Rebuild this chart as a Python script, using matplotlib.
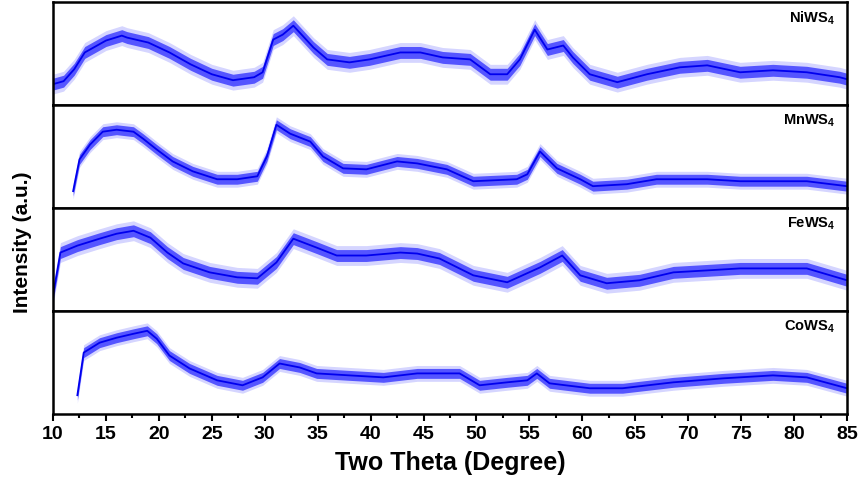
import numpy as np
import matplotlib.pyplot as plt
mpl_config = {
    'font.family': ['Liberation Sans', 'DejaVu Sans'],
    'font.weight': 'bold',
    'mathtext.fontset': 'custom',
    'mathtext.rm': 'Liberation Sans:bold',
    'mathtext.bf': 'Liberation Sans:bold',
}
plt.rcParams.update(mpl_config)
del mpl_config

# sample names, top to bottom
samples = [r'NiWS$_4$', r'MnWS$_4$', r'FeWS$_4$', r'CoWS$_4$']

# trend of each pattern (two theta in degree, intensity in a.u.)
ni_tt = [10, 11, 12, 13, 15, 16.5, 17, 19, 21, 23, 25, 27, 29, 29.8, 30.8, 31.7, 32.7, 34.6, 35.9, 38, 39.9,
         42.8, 44.7, 46.8, 49.4, 51.3, 52.9, 54.1, 55.5, 56.7, 58.2, 59.1, 60.7, 63.3, 66.1, 69.2,
         71.8, 74.9, 78, 81.2, 84.3, 85]
ni_int = [21, 24, 36, 53, 65, 70, 68, 63, 53, 41, 31, 25, 28, 33, 66, 71, 80, 58, 46, 43, 46,
          53, 53, 48, 46, 31, 31, 46, 76, 56, 60, 48, 31, 23, 31, 38,
          40, 33, 35, 33, 28, 26]

mn_tt = [11.9, 12.5, 13.5, 14.7, 16, 17.6, 18.5, 19.8, 21.3, 23.2, 25.5, 27.4, 29.3, 30.2, 31.1,
         32.4, 34.3, 35.5, 37.4, 39.6, 42.5, 44.4, 47.2, 49.7, 53.8, 54.8, 56, 57.6, 59.8, 61,
         64.2, 67, 71.8, 74.9, 78, 81.2, 85]
mn_int = [17, 49, 64, 77, 79, 77, 70, 59, 47, 37, 29, 29, 32, 52, 84,
          75, 67, 52, 40, 39, 47, 45, 39, 27, 29, 34, 57, 40, 29, 22,
          24, 29, 29, 27, 27, 27, 22]

fe_tt = [10, 10.7, 12.3, 14.4, 16, 17.6, 19.2, 20.8, 22.3, 24.8, 27.4, 29.3, 31.1, 32.7, 34.9,
         36.8, 39.6, 42.8, 44.4, 46.5, 49.7, 52.9, 56, 58.1, 59.8, 62.3, 65.4, 68.6, 71.8, 74.9,
         78, 81.2, 85]
fe_int = [16, 59, 66, 73, 78, 81, 74, 59, 48, 39, 34, 33, 49, 73, 64,
          56, 56, 59, 58, 53, 36, 29, 44, 56, 36, 28, 31, 39, 41, 43,
          43, 43, 31]

co_tt = [12.3, 12.9, 14.4, 16, 17.6, 18.9, 19.8, 21, 22.9, 25.5, 27.9, 29.8, 31.4, 33.3, 34.9,
         38, 41.2, 44.4, 46.5, 48.4, 50.3, 52.9, 54.8, 55.7, 56.9, 60.7, 63.8, 68.6, 73.3, 78,
         81.2, 85]
co_int = [19, 62, 72, 77, 81, 84, 76, 59, 46, 34, 29, 37, 51, 47, 41,
          39, 37, 41, 41, 41, 29, 32, 34, 41, 31, 26, 26, 32, 36, 39,
          37, 26]

# half height of the noise band of each pattern (dense core, then the spikes)
noise = [6, 5, 6, 5]
spikes = [10, 8, 10, 8]

two_theta = [ni_tt, mn_tt, fe_tt, co_tt]
intensity = [ni_int, mn_int, fe_int, co_int]
x_ticks = list(range(10, 90, 5))

fig, axes = plt.subplots(4, 1, sharex=True, figsize=(8.62, 4.84), dpi=100)
fig.subplots_adjust(left=0.0615, right=0.9826, top=0.996, bottom=0.1446, hspace=0)

for ax, name, tt, it, w, s in zip(axes, samples, two_theta, intensity, noise, spikes):
    tt = np.array(tt)
    it = np.array(it)
    ax.fill_between(tt, it - s, it + s, color='#4040ff', alpha=0.22, linewidth=0)
    ax.fill_between(tt, it - w, it + w, color='#0000ff', alpha=0.6, linewidth=0)
    ax.plot(tt, it, color='#0000ee', linewidth=1.3)
    ax.set_xlim(10, 85)
    ax.set_ylim(0, 104)
    ax.set_yticks([])
    for sp in ax.spines.values():
        sp.set_linewidth(1.8)
    ax.tick_params(axis='x', which='both', bottom=False, labelbottom=False)
    ax.text(0.985, 0.93, name, transform=ax.transAxes, ha='right', va='top',
            fontsize=10.5, fontweight='bold')

axb = axes[-1]
axb.set_xticks(x_ticks)
axb.set_xticks(np.arange(12.5, 85, 5), minor=True)
axb.tick_params(axis='x', which='both', bottom=True, labelbottom=True, direction='out',
                labelsize=14, width=1.5)
axb.tick_params(axis='x', which='major', length=5)
axb.tick_params(axis='x', which='minor', length=3)
for lab in axb.get_xticklabels():
    lab.set_fontweight('bold')
axb.set_xlabel('Two Theta (Degree)', fontsize=18, fontweight='bold', labelpad=6)

fig.text(0.026, 0.5, 'Intensity (a.u.)', rotation=90, ha='center', va='center',
         fontsize=15, fontweight='bold')

plt.savefig('out.png', dpi=100)
